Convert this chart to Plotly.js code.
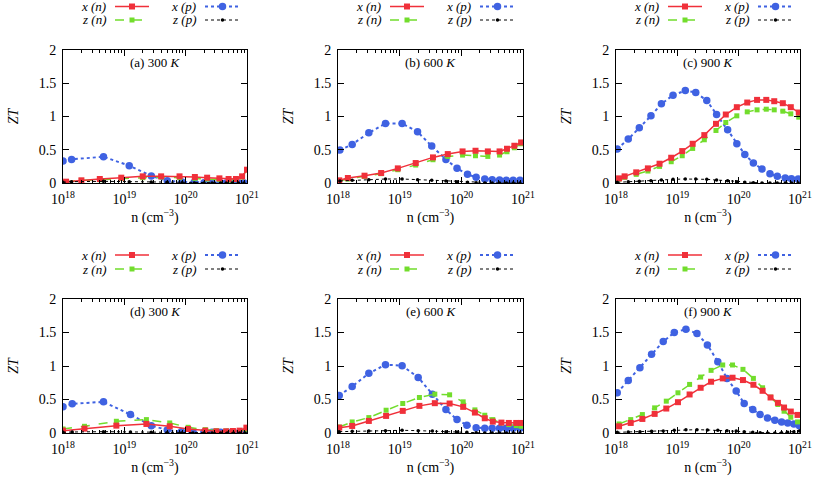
<!DOCTYPE html>
<html>
<head>
<meta charset="utf-8">
<script src="https://cdn.plot.ly/plotly-3.0.1.min.js"></script>
<style>
  html, body { margin: 0; padding: 0; background: #fff; }
  #chart { width: 813px; height: 477px; }
</style>
</head>
<body>
<div id="chart"></div>
<script>
// carrier concentration given as log10(n / cm^-3), ZT

// (a) 300 K, upper set
const a_nx = [18.05, 18.3, 18.6, 18.95, 19.3, 19.6, 19.9, 20.15, 20.35, 20.55, 20.7, 20.82, 20.92, 21.0];
const a_xn = [0.02, 0.04, 0.06, 0.08, 0.10, 0.10, 0.10, 0.09, 0.08, 0.07, 0.06, 0.06, 0.10, 0.20];
const a_zn = [0.02, 0.04, 0.05, 0.07, 0.08, 0.09, 0.08, 0.07, 0.06, 0.05, 0.04, 0.05, 0.09, 0.20];
const a_px = [18.0, 18.14, 18.66, 19.08, 19.44, 19.70, 19.94, 20.14, 20.30, 20.43, 20.57, 20.66, 20.76, 20.86, 20.95];
const a_xp = [0.33, 0.355, 0.395, 0.26, 0.105, 0.035, 0.015, 0.01, 0.005, 0.005, 0, 0, 0, 0, 0];
const a_zp = [0.01, 0.02, 0.025, 0.02, 0.015, 0.01, 0.005, 0, 0, 0, 0, 0, 0, 0, 0];

// (b) 600 K
const b_nx = [18.02, 18.16, 18.43, 18.70, 18.97, 19.26, 19.54, 19.78, 20.02, 20.23, 20.43, 20.62, 20.74, 20.86, 20.97];
const b_xn = [0.04, 0.075, 0.11, 0.15, 0.22, 0.30, 0.385, 0.435, 0.475, 0.485, 0.475, 0.475, 0.515, 0.56, 0.61];
const b_zn = [0.03, 0.06, 0.10, 0.14, 0.20, 0.27, 0.35, 0.40, 0.42, 0.41, 0.40, 0.42, 0.47, 0.53, 0.59];
const b_px = [18.03, 18.23, 18.50, 18.77, 19.04, 19.29, 19.52, 19.75, 19.93, 20.10, 20.24, 20.38, 20.50, 20.62, 20.73, 20.84, 20.95];
const b_xp = [0.495, 0.58, 0.755, 0.895, 0.895, 0.77, 0.555, 0.355, 0.22, 0.13, 0.085, 0.06, 0.05, 0.045, 0.04, 0.04, 0.04];
const b_zp = [0.03, 0.04, 0.05, 0.06, 0.06, 0.05, 0.04, 0.03, 0.02, 0.01, 0.005, 0, 0, 0, 0, 0, 0];

// (c) 900 K
const c_nx = [18.05, 18.14, 18.33, 18.52, 18.71, 18.90, 19.08, 19.25, 19.44, 19.63, 19.79, 19.97, 20.14, 20.30, 20.45, 20.58, 20.72, 20.85, 20.98];
const c_xn = [0.07, 0.10, 0.16, 0.22, 0.29, 0.38, 0.48, 0.59, 0.72, 0.89, 1.03, 1.14, 1.21, 1.25, 1.25, 1.23, 1.20, 1.14, 1.06];
const c_zn = [0.06, 0.085, 0.13, 0.18, 0.25, 0.32, 0.41, 0.52, 0.65, 0.79, 0.91, 1.01, 1.07, 1.10, 1.11, 1.10, 1.08, 1.04, 0.99];
const c_px = [18.02, 18.20, 18.38, 18.57, 18.74, 18.93, 19.13, 19.30, 19.48, 19.64, 19.82, 19.97, 20.10, 20.24, 20.38, 20.51, 20.63, 20.76, 20.86, 20.97];
const c_xp = [0.51, 0.66, 0.83, 1.01, 1.19, 1.32, 1.39, 1.36, 1.24, 1.03, 0.80, 0.59, 0.43, 0.30, 0.21, 0.14, 0.10, 0.075, 0.065, 0.06];
const c_zp = [0.01, 0.02, 0.025, 0.035, 0.045, 0.055, 0.06, 0.06, 0.055, 0.045, 0.035, 0.02, 0.01, 0.005, 0, 0, 0, 0, 0, 0];

// (d) 300 K, lower set
const d_nx = [18.0, 18.35, 18.87, 19.36, 19.74, 20.04, 20.32, 20.5, 20.66, 20.77, 20.88, 20.99];
const d_xn = [0.035, 0.065, 0.11, 0.135, 0.10, 0.06, 0.035, 0.025, 0.025, 0.03, 0.035, 0.08];
const d_zn = [0.06, 0.10, 0.175, 0.20, 0.15, 0.085, 0.05, 0.035, 0.03, 0.03, 0.03, 0.05];
const d_px = [18.0, 18.15, 18.66, 19.10, 19.44, 19.70, 19.93, 20.12, 20.30, 20.43, 20.57, 20.68, 20.78, 20.88, 20.97];
const d_xp = [0.39, 0.435, 0.465, 0.275, 0.11, 0.045, 0.02, 0.01, 0.01, 0.01, 0.01, 0.01, 0.01, 0.01, 0.01];
const d_zp = [0.01, 0.015, 0.02, 0.015, 0.01, 0.005, 0, 0, 0, 0, 0, 0, 0, 0, 0];

// (e) 600 K
const e_nx = [18.02, 18.23, 18.50, 18.78, 19.05, 19.32, 19.57, 19.81, 20.03, 20.22, 20.38, 20.51, 20.65, 20.77, 20.89, 20.97];
const e_xn = [0.08, 0.105, 0.18, 0.255, 0.33, 0.405, 0.445, 0.44, 0.39, 0.305, 0.22, 0.17, 0.155, 0.15, 0.15, 0.15];
const e_zn = [0.09, 0.165, 0.23, 0.34, 0.44, 0.53, 0.58, 0.57, 0.465, 0.345, 0.265, 0.20, 0.15, 0.125, 0.11, 0.10];
const e_px = [18.02, 18.23, 18.50, 18.77, 19.04, 19.30, 19.53, 19.75, 19.93, 20.09, 20.24, 20.38, 20.50, 20.62, 20.73, 20.84, 20.95];
const e_xp = [0.56, 0.695, 0.89, 1.02, 1.005, 0.83, 0.58, 0.35, 0.20, 0.115, 0.08, 0.07, 0.07, 0.07, 0.07, 0.07, 0.07];
const e_zp = [0.02, 0.025, 0.03, 0.035, 0.04, 0.035, 0.03, 0.02, 0.015, 0.01, 0.005, 0, 0, 0, 0, 0, 0];

// (f) 900 K
const f_nx = [18.05, 18.24, 18.43, 18.63, 18.82, 19.01, 19.20, 19.38, 19.55, 19.74, 19.90, 20.07, 20.24, 20.39, 20.52, 20.64, 20.74, 20.85, 20.96];
const f_xn = [0.10, 0.15, 0.21, 0.285, 0.365, 0.46, 0.575, 0.675, 0.765, 0.815, 0.825, 0.79, 0.72, 0.63, 0.53, 0.45, 0.38, 0.32, 0.27];
const f_zn = [0.135, 0.20, 0.275, 0.375, 0.475, 0.60, 0.725, 0.835, 0.935, 1.015, 1.015, 0.95, 0.815, 0.675, 0.535, 0.425, 0.325, 0.235, 0.165];
const f_px = [18.02, 18.20, 18.39, 18.58, 18.77, 18.95, 19.14, 19.32, 19.49, 19.66, 19.81, 19.96, 20.09, 20.23, 20.35, 20.47, 20.59, 20.70, 20.80, 20.90, 20.99];
const f_xp = [0.60, 0.785, 0.975, 1.175, 1.365, 1.50, 1.55, 1.485, 1.315, 1.065, 0.815, 0.625, 0.44, 0.35, 0.275, 0.225, 0.19, 0.165, 0.15, 0.135, 0.11];
const f_zp = [0.01, 0.015, 0.02, 0.025, 0.03, 0.04, 0.05, 0.05, 0.045, 0.04, 0.035, 0.03, 0.02, 0.01, 0.005, 0, 0, 0.005, 0.01, 0.02, 0.03];

const panelLabels = ['(a) 300 <i>K</i>', '(b) 600 <i>K</i>', '(c) 900 <i>K</i>',
                     '(d) 300 <i>K</i>', '(e) 600 <i>K</i>', '(f) 900 <i>K</i>'];
const seriesNames = ['x (n)', 'z (n)', 'x (p)', 'z (p)'];
const xTickVals = [1e18, 1e19, 1e20, 1e21];
const xTickText = ['10<sup>18</sup>', '10<sup>19</sup>', '10<sup>20</sup>', '10<sup>21</sup>'];
const yTickVals = [0, 0.5, 1, 1.5, 2];
const yTickText = ['0', '0.5', '1', '1.5', '2'];

const panels = [
  { nx: a_nx, xn: a_xn, zn: a_zn, px: a_px, xp: a_xp, zp: a_zp },
  { nx: b_nx, xn: b_xn, zn: b_zn, px: b_px, xp: b_xp, zp: b_zp },
  { nx: c_nx, xn: c_xn, zn: c_zn, px: c_px, xp: c_xp, zp: c_zp },
  { nx: d_nx, xn: d_xn, zn: d_zn, px: d_px, xp: d_xp, zp: d_zp },
  { nx: e_nx, xn: e_xn, zn: e_zn, px: e_px, xp: e_xp, zp: e_zp },
  { nx: f_nx, xn: f_xn, zn: f_zn, px: f_px, xp: f_xp, zp: f_zp }
];

const W = 813, H = 477;
const RED = '#f0303a', GREEN = '#72dd2c', BLUE = '#3f62e2', BLACK = '#000000';
const SERIF = 'Liberation Serif, Times New Roman, DejaVu Serif, serif';

// plot-area edges in pixels
const colLeft = [63, 338, 616];
const colRight = [247, 523, 800];
const rowTop = [50, 299];
const rowBottom = [183, 433];
const legendRows = [[6.5, 20], [255, 269]];

const px = v => v / W;
const py = v => 1 - v / H;
const toN = arr => arr.map(e => Math.pow(10, e));

const traces = [];
const layout = {
  width: W, height: H,
  margin: { l: 0, r: 0, t: 0, b: 0 },
  paper_bgcolor: '#fff', plot_bgcolor: '#fff',
  showlegend: false,
  font: { family: SERIF, size: 14, color: '#000' },
  annotations: [],
  shapes: []
};

panels.forEach((p, i) => {
  const k = i + 1;
  const col = i % 3, row = Math.floor(i / 3);
  const xa = 'x' + k, ya = 'y' + k;

  traces.push({
    x: toN(p.px), y: p.xp, xaxis: xa, yaxis: ya, mode: 'lines+markers', name: seriesNames[2],
    line: { color: BLUE, width: 2, dash: 'dot' },
    marker: { symbol: 'circle', size: 7.5, color: BLUE }
  });
  traces.push({
    x: toN(p.nx), y: p.zn, xaxis: xa, yaxis: ya, mode: 'lines+markers', name: seriesNames[1],
    line: { color: GREEN, width: 1.5, dash: 'dash' },
    marker: { symbol: 'square', size: 5, color: GREEN }
  });
  traces.push({
    x: toN(p.nx), y: p.xn, xaxis: xa, yaxis: ya, mode: 'lines+markers', name: seriesNames[0],
    line: { color: RED, width: 1.5 },
    marker: { symbol: 'square', size: 6, color: RED }
  });
  traces.push({
    x: toN(p.px), y: p.zp, xaxis: xa, yaxis: ya, mode: 'lines+markers', name: seriesNames[3],
    line: { color: BLACK, width: 1, dash: 'dot' },
    marker: { symbol: 'circle', size: 3.5, color: BLACK }
  });

  const L = colLeft[col], R = colRight[col];
  layout['xaxis' + k] = {
    type: 'log', range: [18, 21], domain: [px(L), px(R)], anchor: ya,
    showline: true, linecolor: '#000', linewidth: 1, mirror: 'ticks',
    ticks: 'inside', ticklen: 6, tickcolor: '#000', ticklabelstandoff: 3,
    tickvals: xTickVals, ticktext: xTickText,
    tickfont: { family: SERIF, size: 14 },
    minor: { ticks: 'inside', ticklen: 3, tickcolor: '#000', dtick: 'D1', showgrid: false },
    showgrid: false, zeroline: false, automargin: false,
    title: { text: 'n (cm<sup>\u22123</sup>)', font: { family: SERIF, size: 14 }, standoff: 6 }
  };
  layout['yaxis' + k] = {
    range: [0, 2], domain: [py(rowBottom[row]), py(rowTop[row])], anchor: xa,
    showline: true, linecolor: '#000', linewidth: 1, mirror: 'ticks',
    ticks: 'inside', ticklen: 6, tickcolor: '#000', ticklabelstandoff: 3,
    tickvals: yTickVals, ticktext: yTickText,
    tickfont: { family: SERIF, size: 14 },
    showgrid: false, zeroline: false, automargin: false,
    title: { text: '<i>ZT</i>', font: { family: SERIF, size: 14 }, standoff: 16 }
  };

  // panel label
  layout.annotations.push({
    xref: 'paper', yref: 'paper', x: px((L + R) / 2), y: py(rowTop[row] + 12),
    text: panelLabels[i], showarrow: false, xanchor: 'center', yanchor: 'middle',
    font: { family: SERIF, size: 13 }
  });

  // key above each panel: text on the left, sample on the right
  const [r1, r2] = legendRows[row];
  const keys = [
    { name: seriesNames[0], tx: L + 45, y: r1, x0: L + 52, x1: L + 86, color: RED, dash: 'solid', w: 1.5, sym: 'rect', s: 3 },
    { name: seriesNames[1], tx: L + 45, y: r2, x0: L + 52, x1: L + 86, color: GREEN, dash: 'dash', w: 1.5, sym: 'rect', s: 2.5 },
    { name: seriesNames[2], tx: L + 135, y: r1, x0: L + 142, x1: L + 177, color: BLUE, dash: 'dot', w: 2, sym: 'circle', s: 3.75 },
    { name: seriesNames[3], tx: L + 135, y: r2, x0: L + 142, x1: L + 177, color: BLACK, dash: 'dot', w: 1, sym: 'circle', s: 1.75 }
  ];
  keys.forEach(kk => {
    layout.annotations.push({
      xref: 'paper', yref: 'paper', x: px(kk.tx), y: py(kk.y),
      text: '<i>' + kk.name + '</i>', showarrow: false, xanchor: 'right', yanchor: 'middle',
      font: { family: SERIF, size: 13 }
    });
    layout.shapes.push({
      type: 'line', xref: 'paper', yref: 'paper',
      x0: px(kk.x0), x1: px(kk.x1), y0: py(kk.y), y1: py(kk.y),
      line: { color: kk.color, width: kk.w, dash: kk.dash }
    });
    const cx = (kk.x0 + kk.x1) / 2;
    layout.shapes.push({
      type: kk.sym, xref: 'paper', yref: 'paper',
      xsizemode: 'pixel', ysizemode: 'pixel', xanchor: px(cx), yanchor: py(kk.y),
      x0: -kk.s, x1: kk.s, y0: -kk.s, y1: kk.s,
      fillcolor: kk.color, line: { color: kk.color, width: 0 }
    });
  });
});

Plotly.newPlot('chart', traces, layout, { displayModeBar: false, staticPlot: true });
</script>
</body>
</html>
